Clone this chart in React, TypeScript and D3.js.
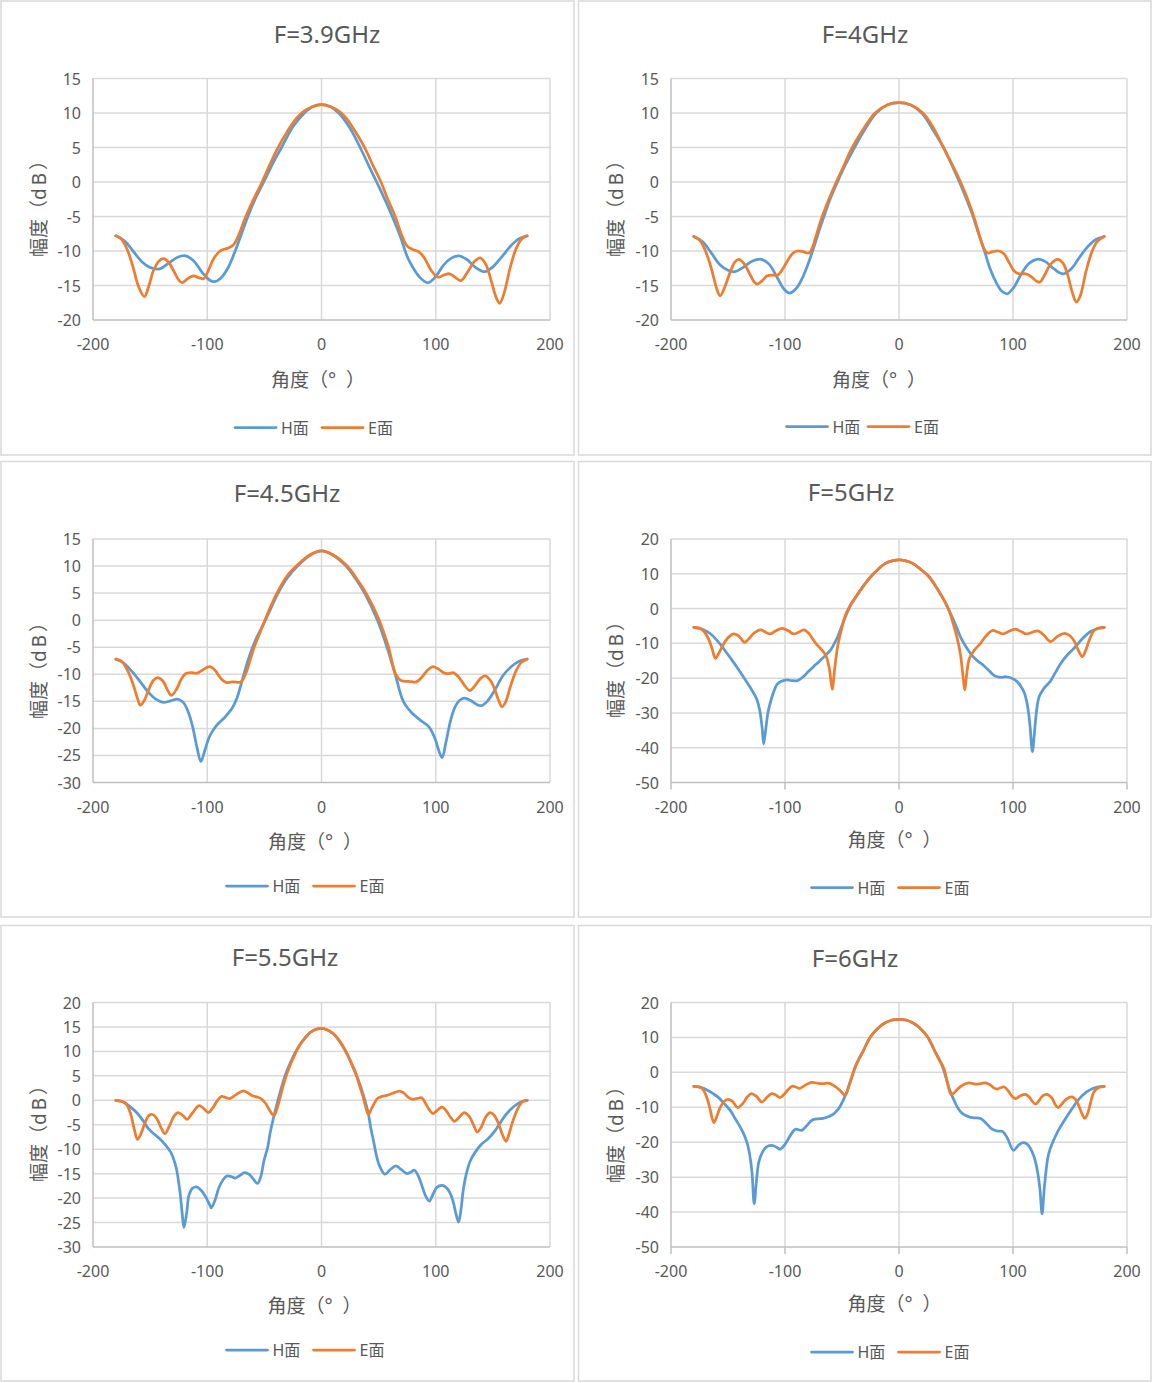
import React from 'react';
import * as d3 from 'd3';

type Pt = [number, number];

const xTicks = [-200, -100, 0, 100, 200];
const yTicksA = [15, 10, 5, 0, -5, -10, -15, -20];
const yTicksB = [15, 10, 5, 0, -5, -10, -15, -20, -25, -30];
const yTicksC = [20, 10, 0, -10, -20, -30, -40, -50];
const yTicksD = [20, 15, 10, 5, 0, -5, -10, -15, -20, -25, -30];

const seriesNames = ['H面', 'E面'];

const H39: Pt[] = [[-180,-7.8],[-172,-8.6],[-165,-10.0],[-157,-11.6],[-150,-12.4],[-142,-12.6],[-134,-11.8],[-126,-10.9],[-119,-10.7],[-112,-11.4],[-104,-13.2],[-98,-14.2],[-94,-14.45],[-88,-13.9],[-82,-12.5],[-76,-10.2],[-70,-7.5],[-64,-4.8],[-57,-2.1],[-50,0.2],[-42,2.9],[-35,5.0],[-25,8.0],[-15,10.0],[-8,10.9],[0,11.2],[8,10.9],[15,10.0],[25,7.8],[35,4.6],[43,1.8],[50,-0.6],[57,-3.1],[63,-5.4],[69,-7.9],[75,-10.8],[80,-12.4],[86,-13.8],[93,-14.6],[100,-13.7],[107,-12.0],[114,-11.0],[120,-10.7],[127,-11.2],[135,-12.4],[143,-13.0],[150,-12.3],[158,-10.8],[166,-9.2],[173,-8.2],[180,-7.8]];
const E39: Pt[] = [[-180,-7.8],[-175,-8.3],[-170,-9.8],[-165,-12.3],[-160,-15.2],[-155,-16.6],[-151,-15.0],[-147,-12.8],[-142,-11.4],[-138,-11.1],[-134,-11.6],[-129,-13.0],[-125,-14.2],[-122,-14.6],[-117,-14.0],[-112,-13.6],[-107,-13.9],[-103,-14.0],[-99,-12.8],[-94,-11.0],[-88,-9.9],[-82,-9.6],[-77,-9.1],[-72,-7.5],[-67,-5.3],[-60,-2.7],[-52,0],[-45,2.6],[-38,5.0],[-30,7.3],[-22,9.2],[-15,10.3],[-8,10.9],[0,11.2],[8,10.9],[15,10.3],[22,9.2],[30,7.2],[38,4.9],[45,2.4],[52,0],[58,-2.5],[64.5,-5.0],[70,-7.6],[75,-9.3],[80,-9.8],[85,-10.1],[90,-11.0],[96,-12.8],[102,-13.8],[107,-13.5],[112,-13.3],[117,-13.8],[122,-14.3],[128,-13.0],[134,-11.5],[139,-11.0],[144,-12.0],[149,-14.6],[153,-16.8],[156,-17.6],[160,-16.0],[165,-12.5],[170,-9.8],[175,-8.3],[180,-7.8]];

const H40: Pt[] = [[-180,-7.9],[-172,-8.7],[-165,-10.2],[-157,-12.0],[-150,-12.8],[-144,-13.0],[-137,-12.4],[-129,-11.5],[-121,-11.2],[-114,-11.9],[-107,-13.8],[-101,-15.5],[-96,-16.1],[-90,-15.4],[-85,-14.0],[-80,-12.0],[-75,-9.6],[-70,-7.0],[-65,-4.6],[-60,-2.3],[-54,0],[-47,2.5],[-39,5.0],[-30,7.6],[-20,10.0],[-10,11.2],[0,11.5],[10,11.2],[20,10.0],[30,7.5],[39,5.0],[46,2.6],[53,0],[59,-2.4],[65,-5.0],[70,-7.6],[75,-10.0],[80,-12.6],[86,-14.8],[90,-15.8],[95,-16.2],[101,-15.2],[107,-13.4],[114,-11.8],[121,-11.2],[128,-11.5],[136,-12.6],[144,-13.3],[151,-12.6],[158,-11.0],[166,-9.3],[173,-8.3],[180,-7.9]];
const E40: Pt[] = [[-180,-7.9],[-175,-8.4],[-170,-9.9],[-165,-12.3],[-160,-15.4],[-157,-16.5],[-153,-15.3],[-148,-13.0],[-144,-11.6],[-140.5,-11.2],[-136,-11.8],[-131,-13.3],[-127,-14.5],[-124.5,-14.8],[-120,-14.3],[-115.5,-13.6],[-110,-13.5],[-106.5,-13.5],[-102,-12.6],[-97,-11.2],[-93,-10.3],[-89,-10.0],[-84,-10.1],[-79,-10.3],[-76,-9.5],[-72,-7.4],[-67,-4.8],[-61,-2.3],[-55,0],[-48,2.5],[-41,5.0],[-30,8.0],[-21,10.0],[-10,11.2],[0,11.5],[10,11.2],[21,10.0],[30,7.9],[39,5.0],[47,2.4],[54,0],[60,-2.4],[66,-5.2],[71,-8.0],[75,-9.8],[78,-10.3],[82,-10.1],[87.5,-10.0],[92,-10.4],[97,-11.8],[101,-12.9],[105,-13.3],[111,-13.3],[116,-13.7],[120,-14.3],[123.5,-14.5],[128,-13.4],[133,-11.9],[139.5,-11.2],[144,-11.8],[148,-13.5],[152,-16.0],[155.5,-17.4],[159,-16.5],[164,-13.0],[169,-10.2],[174,-8.6],[180,-7.9]];

const H45: Pt[] = [[-180,-7.2],[-174,-7.8],[-167,-9.2],[-160,-11.0],[-152,-13.2],[-145,-14.6],[-138.5,-15.2],[-132,-14.9],[-126,-14.6],[-121,-15.2],[-117,-16.8],[-113,-19.5],[-109,-23.5],[-105.6,-26.1],[-102,-24.0],[-98,-21.5],[-92,-19.5],[-84,-17.8],[-78,-16.2],[-74,-14.4],[-69,-10.8],[-64,-7.2],[-58,-3.8],[-49,0],[-38,5.0],[-30,7.8],[-21,10.0],[-10,12.0],[0,12.8],[10,12.0],[21.5,10.0],[30,7.6],[37.7,5.0],[49,0],[53,-2.3],[57,-4.8],[64.5,-10.0],[71.6,-15.0],[78,-16.9],[86,-18.4],[94,-19.7],[99,-21.7],[103,-24.3],[105.6,-25.4],[109,-22.5],[113,-18.5],[117,-16.0],[121,-14.8],[125,-14.4],[131,-14.9],[136,-15.6],[140,-15.8],[145,-15.0],[152,-12.8],[159,-10.2],[166,-8.6],[173,-7.6],[180,-7.2]];
const E45: Pt[] = [[-180,-7.2],[-175,-7.6],[-170,-9.2],[-165,-11.8],[-161,-14.5],[-158.6,-15.7],[-155,-14.8],[-151,-12.7],[-147,-11.1],[-143.4,-10.6],[-139,-11.2],[-135,-12.8],[-131.4,-13.9],[-127,-12.8],[-123,-11.0],[-119,-9.9],[-114,-9.7],[-109.4,-9.8],[-104,-9.2],[-98,-8.6],[-93,-9.3],[-88,-10.8],[-83.6,-11.5],[-77,-11.4],[-70.6,-11.4],[-66.5,-10.0],[-59,-5.0],[-54,-2.4],[-49.6,0],[-39,5.0],[-30,8.2],[-22,10.0],[-10,12.1],[0,12.8],[10,12.1],[22.5,10.0],[30,7.9],[39,5.0],[50.6,0],[55,-2.6],[58.7,-5.0],[65,-10.0],[70,-11.2],[76,-11.3],[83,-11.4],[88,-10.5],[93,-9.2],[97.5,-8.6],[102,-9.0],[107,-9.7],[111,-9.9],[115,-9.7],[120,-10.5],[125,-12.0],[129.8,-13.0],[134,-12.2],[139,-10.8],[143.4,-10.3],[148,-11.2],[152,-13.0],[155,-14.8],[158,-16.0],[161,-15.2],[165,-12.5],[170,-9.5],[175,-7.8],[180,-7.2]];

const H50: Pt[] = [[-180,-5.4],[-172,-6.0],[-166,-7.1],[-160,-9.0],[-153,-11.9],[-147,-14.6],[-140.6,-17.6],[-135,-20.4],[-131,-22.4],[-127,-24.6],[-124.5,-26.3],[-122,-29.5],[-120,-34.5],[-118.7,-38.9],[-117,-35],[-115,-30],[-113,-27.2],[-110,-24],[-106.8,-21.7],[-103,-20.9],[-98.8,-20.5],[-94,-20.7],[-89,-20.7],[-84,-19.6],[-79.5,-18.1],[-75,-16.7],[-70,-15.2],[-65,-13.6],[-60,-11.9],[-56,-9.6],[-53.8,-8.1],[-50,-4.9],[-45.8,-1.4],[-42,1.2],[-37.8,3.4],[-31,6.6],[-25,9.2],[-18,11.4],[-12,13.0],[-6,13.7],[0,14.0],[6,13.7],[12,13.0],[19,11.3],[26.5,9.2],[33,6.0],[39.4,2.5],[44,-0.6],[49,-4.2],[54,-8.2],[58.6,-10.9],[63,-13.0],[68,-14.8],[74.7,-16.5],[80,-18.2],[84.3,-19.4],[89,-19.8],[94,-19.6],[99,-20.0],[103.6,-21.0],[107,-22.4],[110,-24.3],[113,-28.5],[115,-34],[117,-41.1],[119,-35],[121,-28.5],[123,-25.3],[127,-23.0],[132.5,-21.0],[137,-18.5],[142,-15.7],[148,-13.2],[155,-10.9],[161,-8.6],[168,-6.6],[174,-5.8],[180,-5.4]];
const E50: Pt[] = [[-180,-5.4],[-175,-5.6],[-171,-6.6],[-167,-8.8],[-164,-11.5],[-161,-14.3],[-158,-12.8],[-155,-10.9],[-152,-9.2],[-148,-7.8],[-145,-7.3],[-141,-7.8],[-138,-8.9],[-135.7,-9.7],[-132,-8.8],[-127,-7.0],[-121.3,-6.1],[-117,-6.8],[-113,-7.3],[-108,-6.4],[-102.7,-5.7],[-97,-6.4],[-92.4,-7.3],[-88,-6.8],[-83.4,-6.1],[-79,-7.2],[-73,-10.0],[-68,-11.8],[-64,-13.6],[-61,-17.5],[-58.6,-23.2],[-56.5,-17.5],[-53.8,-10.9],[-50.5,-6.0],[-47.4,-2.3],[-43,0.8],[-37.8,3.4],[-31,6.6],[-25,9.0],[-18,11.4],[-12,13.0],[-6,13.7],[0,14.0],[6,13.7],[12,13.0],[19,11.3],[26.5,9.0],[33,6.0],[39.4,2.5],[44,-0.6],[47.4,-4.2],[50.5,-7.8],[53.8,-12.9],[56,-19],[57.7,-23.4],[59.5,-18.5],[61.8,-14.3],[66,-12.0],[71.5,-10.0],[76,-8.0],[82,-6.3],[87,-6.8],[91.5,-7.3],[96,-6.6],[102,-5.9],[107,-6.6],[111.6,-7.3],[117,-6.8],[122,-6.4],[127,-7.6],[133,-9.5],[139,-8.0],[145.4,-7.1],[150,-7.8],[154,-9.5],[157,-11.8],[160.8,-13.8],[164,-11.8],[167,-9.0],[171,-6.3],[175,-5.6],[180,-5.4]];

const H55: Pt[] = [[-180,0],[-175,-0.2],[-171,-0.7],[-166,-1.6],[-161,-2.7],[-156,-4.2],[-151.5,-5.8],[-146,-7.0],[-141.8,-7.8],[-137,-9.0],[-132,-10.6],[-129,-12.3],[-127,-14],[-124,-18.5],[-122,-23],[-120.4,-26],[-118,-23],[-116,-19.4],[-113,-18.0],[-109.4,-17.7],[-105,-18.5],[-101.3,-19.8],[-98,-21.3],[-96.5,-22],[-93,-20.3],[-90,-18],[-86,-16.2],[-83,-15.5],[-79,-15.6],[-75.5,-15.9],[-71,-15.3],[-67.4,-14.8],[-63,-15.2],[-61,-15.7],[-56,-17],[-53,-15.5],[-50.6,-12.6],[-47,-9.5],[-44.8,-6.5],[-40,-1.7],[-36,1.8],[-31.8,5.1],[-27,7.8],[-22,10.2],[-15,12.6],[-9.2,14.0],[0,14.7],[10,13.7],[16,12.0],[23,9.2],[28,6.5],[32.8,3.8],[37,0.8],[41,-2.7],[43,-5.5],[45.7,-8.5],[48,-11.2],[50.6,-13.3],[55.5,-15.1],[60,-14.2],[65.2,-13.4],[70,-14.2],[74.9,-15.0],[78,-14.7],[81.3,-14.3],[85,-15.6],[87.8,-17.4],[91,-19.5],[94.3,-20.6],[98,-19.0],[101,-17.8],[105.6,-17.4],[109,-17.8],[112,-18.7],[115,-20.5],[118,-23.5],[120,-24.9],[122,-22.5],[124,-18.5],[126.5,-15.3],[130,-12.5],[134.6,-10.6],[140,-9.0],[146,-7.8],[152,-6.2],[159,-3.7],[165,-2.0],[171.8,-0.7],[176,-0.2],[180,0]];
const E55: Pt[] = [[-180,0],[-175,-0.2],[-171,-0.7],[-167,-2.8],[-164,-5.8],[-161,-8.0],[-158,-6.8],[-154,-4.3],[-151,-3.1],[-148,-2.9],[-144,-3.8],[-140,-5.8],[-137,-6.8],[-133,-5.2],[-129,-3.2],[-125.6,-2.5],[-121,-3.2],[-117.5,-3.9],[-113,-2.6],[-107.2,-1.1],[-103,-1.7],[-99,-2.5],[-95,-1.5],[-91,0.0],[-87.5,0.8],[-84,0.6],[-80.4,0.35],[-75,1.1],[-69,1.9],[-65,1.6],[-61,1.0],[-57,0.7],[-53,0.35],[-49,-0.6],[-45,-2.2],[-41.6,-3.1],[-38,-1.0],[-35,1.7],[-32,4.2],[-28.6,6.5],[-24,9.0],[-19,11.3],[-14,12.8],[-9,14.0],[0,14.7],[10,13.7],[15,12.4],[19.9,10.6],[25,8.2],[29.6,5.8],[33,3.2],[36,1.0],[38.5,-1.2],[41,-2.9],[44,-1.6],[49,0.35],[53,0.8],[57,1.0],[62,1.4],[68.4,1.9],[72,1.5],[76,0.6],[79.7,0.2],[84,0.4],[87.8,0.5],[91,-0.6],[94,-1.8],[97.5,-2.7],[101,-2.1],[105.6,-1.4],[110,-2.4],[113,-3.5],[116.3,-4.3],[120,-3.6],[125,-2.5],[129,-3.2],[133,-5.0],[136.3,-6.5],[140,-5.4],[144,-3.3],[147.6,-2.5],[151,-3.0],[155,-4.8],[158,-6.8],[161.5,-8.4],[164,-7.0],[167,-4.6],[171.8,-1.7],[176,-0.3],[180,0]];

const H60: Pt[] = [[-180,-4.0],[-176,-4.1],[-172.7,-4.4],[-168,-5.1],[-163,-6.1],[-158,-7.3],[-153.5,-8.9],[-148,-10.9],[-143.8,-13.2],[-139,-15.8],[-135.7,-18.0],[-133,-20.5],[-130.9,-23.7],[-129,-28.5],[-127,-37.6],[-125,-31],[-123,-25.7],[-120,-23],[-116.5,-21.4],[-111.6,-20.9],[-107,-21.5],[-104.3,-22.0],[-100,-20.6],[-97,-19.0],[-94,-17.4],[-90.8,-16.3],[-85.3,-16.6],[-81,-15.3],[-76.3,-13.7],[-71,-13.3],[-66.7,-13.2],[-62,-12.7],[-57,-11.8],[-54,-10.8],[-52,-9.9],[-49,-8.0],[-45.8,-5.6],[-42,-1.9],[-37.8,2.0],[-31,6.4],[-25,10.2],[-18,12.8],[-12,14.2],[-6,15.0],[0,15.2],[6,15.0],[12,14.2],[18,12.8],[25,10.2],[31,6.4],[37.8,2.0],[41,-1.3],[44,-4.6],[48,-7.8],[52,-10.4],[56,-11.9],[61.8,-12.8],[66,-13.0],[71.5,-13.2],[76,-14.4],[81,-16.1],[86,-16.8],[90.8,-16.9],[95,-18.8],[100.4,-22.3],[105,-20.8],[109,-20.1],[113,-20.7],[118,-23.7],[121,-27.5],[123.5,-33],[125.5,-40.5],[127.5,-33],[131,-23.7],[135,-19.9],[139,-17.1],[145,-13.8],[151.8,-10.4],[158,-7.6],[164.6,-5.6],[170,-4.6],[174,-4.2],[180,-4.0]];
const E60: Pt[] = [[-180,-4.0],[-176,-4.2],[-172.7,-4.6],[-169,-6.8],[-166,-10.2],[-162.4,-14.4],[-159.5,-12.3],[-156.6,-9.9],[-153,-8.2],[-150,-7.7],[-146,-8.3],[-141.5,-10.1],[-137,-8.9],[-133,-7.0],[-129.3,-6.1],[-125,-6.9],[-120.3,-8.5],[-116,-7.2],[-111.6,-6.1],[-108,-6.5],[-104.3,-7.2],[-99,-5.6],[-94,-4.0],[-90.5,-4.2],[-87.5,-4.6],[-82,-3.6],[-76.3,-2.9],[-70,-3.2],[-66,-3.2],[-62,-3.1],[-58,-3.6],[-55.4,-4.2],[-51,-5.4],[-47.4,-6.6],[-44,-4.0],[-41,-1.0],[-37.8,2.0],[-31,6.4],[-25,10.2],[-18,12.8],[-12,14.2],[-6,15.0],[0,15.2],[6,15.0],[12,14.2],[18,12.8],[25,10.2],[31,6.4],[35,3.7],[39.4,1.1],[42.5,-3.0],[45.8,-6.4],[49,-5.6],[52,-4.6],[56,-3.6],[61.2,-3.0],[65,-3.2],[68.3,-3.4],[72,-3.2],[76.3,-3.0],[80,-3.6],[83,-4.4],[86,-4.8],[89,-4.4],[92.4,-4.2],[96,-5.4],[99,-6.8],[102,-7.5],[106,-6.8],[110.8,-6.3],[114,-7.0],[117,-8.3],[119.7,-9.1],[123,-8.0],[126,-6.7],[130,-6.3],[134,-7.3],[137,-9.2],[139.6,-10.1],[143,-9.0],[147,-7.6],[151.8,-7.0],[155,-7.8],[158,-9.8],[161,-12.2],[163,-13.2],[165.5,-11.8],[168,-8.7],[171,-5.6],[175,-4.4],[180,-4.0]];

const titles = ['F=3.9GHz', 'F=4GHz', 'F=4.5GHz', 'F=5GHz', 'F=5.5GHz', 'F=6GHz'];
const xTitleParts = ['角度（°', '）'];
const yTitleParts = ['幅度（', 'dB', '）'];

const COLORS = { H: '#5B9BD5', E: '#ED7D31', grid: '#D9D9D9', axis: '#BFBFBF', text: '#595959', frame: '#D9D9D9' };
const FONT = '"Noto Sans", "Noto Sans CJK SC", sans-serif';

interface PanelCfg {
  title: string; H: Pt[]; E: Pt[]; yTicks: number[];
  frame: [number, number, number, number];
  plot: [number, number, number, number];
  titleX: number; titleY: number; xTitleX: number; xTitleY: number;
  yTitleX: number; yTitleY: number; legendY: number; legendH: number; legendE: number; ticks: boolean;
}

const panels: PanelCfg[] = [
  { title: titles[0], H: H39, E: E39, yTicks: yTicksA, frame: [1, 1, 574, 455], plot: [93, 550, 78.5, 320], titleX: 327, titleY: 43, xTitleX: 318, xTitleY: 380, yTitleX: 38.5, yTitleY: 204, legendY: 427.5, legendH: 235, legendE: 322, ticks: false },
  { title: titles[1], H: H40, E: E40, yTicks: yTicksA, frame: [578.5, 1, 1151, 455], plot: [671, 1127, 78.5, 320], titleX: 865, titleY: 43, xTitleX: 879, xTitleY: 380, yTitleX: 616, yTitleY: 204, legendY: 426.5, legendH: 786.5, legendE: 868, ticks: false },
  { title: titles[2], H: H45, E: E45, yTicks: yTicksB, frame: [1, 461.5, 574, 917], plot: [93, 550, 539, 782.5], titleX: 287, titleY: 502, xTitleX: 315, xTitleY: 841.5, yTitleX: 38.5, yTitleY: 666, legendY: 886, legendH: 226.5, legendE: 313.5, ticks: false },
  { title: titles[3], H: H50, E: E50, yTicks: yTicksC, frame: [578.5, 461.5, 1151, 917], plot: [671, 1127, 539, 782.5], titleX: 851, titleY: 501, xTitleX: 894.5, xTitleY: 840, yTitleX: 616, yTitleY: 665, legendY: 887.5, legendH: 811.5, legendE: 898.5, ticks: true },
  { title: titles[4], H: H55, E: E55, yTicks: yTicksD, frame: [1, 925.5, 574, 1381], plot: [93, 550, 1002.5, 1247], titleX: 285, titleY: 966, xTitleX: 314.5, xTitleY: 1306, yTitleX: 38.5, yTitleY: 1129, legendY: 1350, legendH: 226.5, legendE: 313.5, ticks: false },
  { title: titles[5], H: H60, E: E60, yTicks: yTicksC, frame: [578.5, 925.5, 1151, 1381], plot: [671, 1127, 1002.5, 1247], titleX: 855, titleY: 967, xTitleX: 894.5, xTitleY: 1304, yTitleX: 616, yTitleY: 1130, legendY: 1352, legendH: 811.5, legendE: 898.5, ticks: true },
];

function Panel({ p }: { p: PanelCfg }) {
  const [x0, x1, y0, y1] = p.plot;
  const yMax = d3.max(p.yTicks)!;
  const yMin = d3.min(p.yTicks)!;
  const x = d3.scaleLinear().domain([-200, 200]).range([x0, x1]);
  const y = d3.scaleLinear().domain([yMin, yMax]).range([y1, y0]);
  const line = d3.line<Pt>().x(d => x(d[0])).y(d => y(d[1])).curve(d3.curveCatmullRom.alpha(0.5));
  const [fx0, fy0, fx1, fy1] = p.frame;
  const legendItems = [
    { name: seriesNames[0], color: COLORS.H, x: p.legendH },
    { name: seriesNames[1], color: COLORS.E, x: p.legendE },
  ];
  return (
    <g>
      <rect x={fx0} y={fy0} width={fx1 - fx0} height={fy1 - fy0} fill="#fff" stroke={COLORS.frame} strokeWidth={1.5} />
      <text x={p.titleX} y={p.titleY} textAnchor="middle" fontSize={24} fill={COLORS.text} fontFamily={FONT}>{p.title}</text>
      {p.yTicks.filter(t => t !== yMin).map(t => (
        <line key={'hy' + t} x1={x0} x2={x1} y1={y(t)} y2={y(t)} stroke={COLORS.grid} strokeWidth={1.5} />
      ))}
      {xTicks.filter(t => t !== -200).map(t => (
        <line key={'vx' + t} x1={x(t)} x2={x(t)} y1={y0} y2={y1} stroke={COLORS.grid} strokeWidth={1.5} />
      ))}
      <line x1={x0} x2={x0} y1={y0} y2={y1} stroke={COLORS.axis} strokeWidth={1.5} />
      <line x1={x0} x2={x1} y1={y1} y2={y1} stroke={COLORS.axis} strokeWidth={1.5} />
      {p.ticks && xTicks.map(t => (
        <line key={'tk' + t} x1={x(t)} x2={x(t)} y1={y1} y2={y1 + 7} stroke={COLORS.axis} strokeWidth={1.5} />
      ))}
      {p.yTicks.map(t => (
        <text key={'yl' + t} x={x0 - 12} y={y(t)} textAnchor="end" dominantBaseline="central" fontSize={16} fill={COLORS.text} fontFamily={FONT}>{t}</text>
      ))}
      {xTicks.map(t => (
        <text key={'xl' + t} x={x(t)} y={y1 + 30} textAnchor="middle" fontSize={16} fill={COLORS.text} fontFamily={FONT}>{t}</text>
      ))}
      <text x={p.xTitleX} y={p.xTitleY} textAnchor="middle" dominantBaseline="central" fontSize={19} fill={COLORS.text} fontFamily={FONT}>
        <tspan>{xTitleParts[0]}</tspan><tspan dx={10}>{xTitleParts[1]}</tspan>
      </text>
      <text transform={`translate(${p.yTitleX},${p.yTitleY}) rotate(-90)`} textAnchor="middle" dominantBaseline="central" fontSize={19} fill={COLORS.text} fontFamily={FONT}>
        <tspan>{yTitleParts[0]}</tspan><tspan letterSpacing={3}>{yTitleParts[1]}</tspan><tspan>{yTitleParts[2]}</tspan>
      </text>
      <path d={line(p.H) || ''} fill="none" stroke={COLORS.H} strokeWidth={2.75} strokeLinejoin="round" strokeLinecap="round" />
      <path d={line(p.E) || ''} fill="none" stroke={COLORS.E} strokeWidth={2.75} strokeLinejoin="round" strokeLinecap="round" />
      {legendItems.map(it => (
        <g key={it.name}>
          <line x1={it.x} x2={it.x + 41} y1={p.legendY} y2={p.legendY} stroke={it.color} strokeWidth={2.75} strokeLinecap="round" />
          <text x={it.x + 46} y={p.legendY} dominantBaseline="central" fontSize={16} fill={COLORS.text} fontFamily={FONT}>{it.name}</text>
        </g>
      ))}
    </g>
  );
}

export default function App() {
  return (
    <svg width={1152} height={1383} style={{ position: 'absolute', left: 0, top: 0, background: '#fff' }}>
      <rect x={0} y={0} width={1152} height={1383} fill="#fff" />
      {panels.map((p, i) => <Panel key={i} p={p} />)}
    </svg>
  );
}
